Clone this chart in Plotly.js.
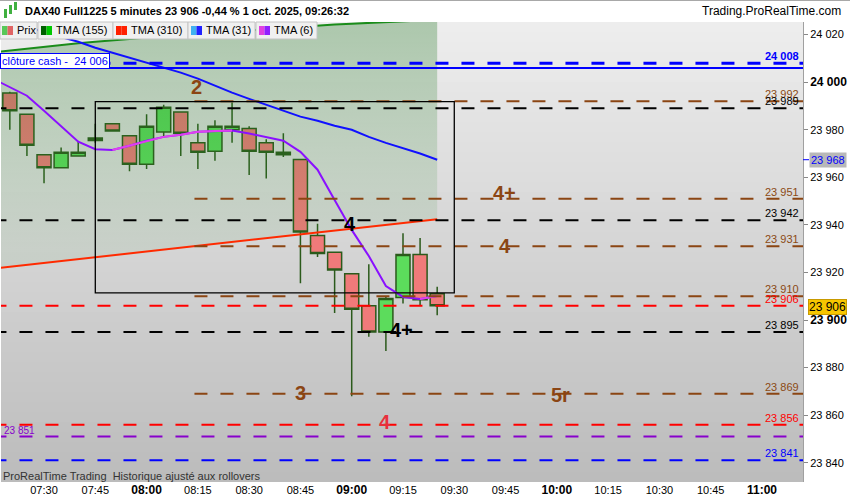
<!DOCTYPE html>
<html>
<head>
<meta charset="utf-8">
<script src="https://cdn.plot.ly/plotly-3.0.1.min.js"></script>
<style>html,body{margin:0;padding:0;background:#fff;}#chart{width:850px;height:500px;}</style>
</head>
<body>
<div id="chart"></div>
<script>
// ---- DATA ----
const times = ['07:20','07:25','07:30','07:35','07:40','07:45','07:50','07:55','08:00','08:05','08:10','08:15','08:20','08:25','08:30','08:35','08:40','08:45','08:50','08:55','09:00','09:05','09:10','09:15','09:20','09:25'];
const opens  = [23995.5,23986.5,23969.5,23964,23969,23975.5,23982.5,23977.5,23965.5,23979,23987.5,23974.5,23971,23980,23980.5,23974.5,23969.5,23967.5,23935.5,23928.5,23919.5,23906,23895,23909.5,23927.5,23911];
const highs  = [23996,23986.5,23969.5,23972.5,23975,23982.5,23982.5,23977.5,23986.5,23990.5,23987.5,23982.5,23984,23991.5,23981.5,23976,23978.5,23967.5,23940.5,23928.5,23919.5,23923.5,23910,23936.5,23934.5,23914];
const lows   = [23980,23969,23957.5,23964,23969,23974.5,23979.5,23962.5,23963.5,23977,23969,23963.5,23967,23974.5,23961,23959.5,23968.5,23915.5,23926.5,23903,23868,23893,23887,23907,23906,23902];
const closes = [23988,23973.5,23964,23970.5,23970.5,23976.5,23979.5,23965.5,23981.5,23989.5,23978.5,23970.5,23981.5,23981.5,23971,23970.5,23970.5,23937,23928,23921,23904.5,23895,23909,23927.5,23908.5,23906];

const maTimes = ['07:15','07:20','07:25','07:30','07:35','07:40','07:45','07:50','07:55','08:00','08:05','08:10','08:15','08:20','08:25','08:30','08:35','08:40','08:45','08:50','08:55','09:00','09:05','09:10','09:15','09:20','09:25'];
const tma155 = [24012.5,24013.3,24014.2,24015,24015.7,24016.4,24017,24017.5,24018.1,24018.7,24019.3,24019.9,24020.4,24021,24021.5,24022,24022.5,24023,24023.4,24023.8,24024.2,24024.6,24025,24025.3,24025.6,24025.9,24026.2];
const tma310 = [23921.6,23922.4,23923.2,23924,23924.8,23925.6,23926.4,23927.2,23928,23928.8,23929.6,23930.4,23931.2,23932,23932.8,23933.6,23934.4,23935.2,23936,23936.8,23937.6,23938.4,23939.2,23940,23940.8,23941.6,23942.4];
const tma31  = [24027,24025,24023.4,24021,24019,24017,24014.5,24012.4,24010.3,24008.2,24006.3,24004,24001.5,23998.5,23995.6,23993,23990.5,23988,23985.5,23983.8,23981.7,23980,23977,23974.5,23972.4,23970,23967.4];
const tma6   = [24001.5,23997.8,23994.3,23988,23981.7,23975,23971.8,23971.5,23973.3,23975.4,23977,23977.9,23979.2,23979.5,23979.7,23978.4,23977,23975.4,23970.7,23963.2,23950.5,23937.9,23926.9,23914.3,23909.7,23908.8,23910.1];

const levelValues = [24008, 23992, 23989, 23951, 23942, 23931, 23910, 23906, 23895, 23869, 23856, 23851, 23841];
const levelLabels = ['24 008','23 992','23 989','23 951','23 942','23 931','23 910','23 906','23 895','23 869','23 856','23 851','23 841'];
const levelKinds  = ['blue','brown','black','brown','black','brown','brown','red','black','brown','red','purple','blue'];
const cashClose = 24006;
const cashLabel = 'clôture cash -  24 006';

const waveTexts  = ['2','4+','4','4','4+','3','5r','4'];
const waveTimes  = ['08:14:40','09:44:50','08:59:30','09:44:50','09:14:40','08:45:00','10:01:00','09:09:40'];
const waveLevels = [23998, 23953.4, 23940.4, 23931.1, 23895.8, 23869.3, 23868.5, 23857];
const waveKinds  = ['brown','brown','black','brown','black','brown','brown','red4'];

const boxTimes  = ['07:45','09:30'];
const boxLevels = [23911.4, 23991.8];

const xTickTimes = ['07:30','07:45','08:00','08:15','08:30','08:45','09:00','09:15','09:30','09:45','10:00','10:15','10:30','10:45','11:00'];
const yTickVals = [23840,23860,23880,23900,23920,23940,23960,23980,24000,24020];
const yTickText = ['23 840','23 860','23 880','23 900','23 920','23 940','23 960','23 980','24 000','24 020'];

const lastMA31 = 23967.4, lastMA31Label = '23 968';
const lastPrice = 23905.6, lastPriceLabel = '23 906';

const titleText = 'DAX40 Full1225 5 minutes 23 906 -0,44 % 1 oct. 2025, 09:26:32';
const siteText = 'Trading.ProRealTime.com';
const footerText = 'ProRealTime Trading\u00a0 Historique ajusté aux rollovers';
const legendItems = ['Prix','TMA (155)','TMA (310)','TMA (31)','TMA (6)'];

// ---- STYLE ----
const FONT = 'Liberation Sans, Arial, sans-serif';
const COL = {blue:'#0000ff', brown:'#8b4513', black:'#000000', red:'#ff0000', purple:'#8800cc', red4:'#e8303c'};
const T = s => '2025-10-01 ' + (s.length === 5 ? s + ':00' : s);
const px = x => (x - 1) / 802;
const py = y => (482 - y) / 460;

const shapes = [];
// background vertical gradient
const bands = 46;
for (let i = 0; i < bands; i++) {
  const t = i / (bands - 1);
  const c = Math.round(237 - t * 49);
  shapes.push({type:'rect', xref:'paper', yref:'paper', x0:0, x1:1, y0:1 - (i + 1) / bands, y1:1 - i / bands,
    fillcolor:`rgb(${c},${c},${c})`, line:{width:0}, layer:'below'});
}
// levels
levelValues.forEach((v, i) => {
  const k = levelKinds[i];
  const startT = k === 'brown' ? T('08:14') : T('07:00');
  shapes.push({type:'line', xref:'x', yref:'y', x0:startT, x1:T('11:30'), y0:v, y1:v,
    line:{color:COL[k], width:k === 'blue' && i === 0 ? 3 : 2, dash:'13px,13px'}});
});
shapes.push({type:'line', xref:'x', yref:'y', x0:T('07:00'), x1:T('11:30'), y0:cashClose, y1:cashClose,
  line:{color:COL.blue, width:2}});
// wave box
shapes.push({type:'rect', xref:'x', yref:'y', x0:T(boxTimes[0]), x1:T(boxTimes[1]), y0:boxLevels[0], y1:boxLevels[1],
  line:{color:'#000', width:1.3}, fillcolor:'rgba(0,0,0,0)'});
// header top border
shapes.push({type:'line', xref:'paper', yref:'paper', x0:px(0), x1:px(850), y0:py(0.5), y1:py(0.5), line:{color:'#a8a8a8', width:1}});
// icon (small candles)
[[4,7,9,18,'#40b040'],[9,12,5,14,'#40b040'],[14,17,2,10,'#40b040']].forEach(c => {
  shapes.push({type:'rect', xref:'paper', yref:'paper', x0:px(c[0]), x1:px(c[1]), y0:py(c[3]), y1:py(c[2]), fillcolor:c[4], line:{width:0}});
});
// legend boxes
const legBoxes = [[0,37],[38,113],[113,188],[188,255],[256,317]];
const legSw = [['#58c858','#e06464'],['#006000','#00c800'],['#ff2000','#ff2000'],['#40b0f0','#2020ff'],['#e040e0','#9020ff']];
const legSwX = [2,41,116,191,259];
const legTextX = [15,54,129,204,272];
legBoxes.forEach((b, i) => {
  shapes.push({type:'rect', xref:'paper', yref:'paper', x0:px(b[0]), x1:px(b[1]), y0:py(39), y1:py(22),
    fillcolor:'#f0f0f0', line:{color:'#c4c4c4', width:1}});
  shapes.push({type:'rect', xref:'paper', yref:'paper', x0:px(legSwX[i]), x1:px(legSwX[i] + 5.5), y0:py(35), y1:py(26), fillcolor:legSw[i][0], line:{width:0}});
  shapes.push({type:'rect', xref:'paper', yref:'paper', x0:px(legSwX[i] + 5.5), x1:px(legSwX[i] + 11), y0:py(35), y1:py(26), fillcolor:legSw[i][1], line:{width:0}});
});
// right axis markers
shapes.push({type:'line', xref:'paper', yref:'y', x0:px(803), x1:px(809), y0:lastMA31, y1:lastMA31, line:{color:COL.blue, width:1}});

const annotations = [];
annotations.push({xref:'paper', yref:'paper', x:px(23), y:py(11), xanchor:'left', yanchor:'middle', showarrow:false,
  text:'<b>' + titleText + '</b>', font:{family:FONT, size:11, color:'#000'}});
annotations.push({xref:'paper', yref:'paper', x:px(843), y:py(11), xanchor:'right', yanchor:'middle', showarrow:false,
  text:siteText, font:{family:FONT, size:12, color:'#000'}});
legendItems.forEach((t, i) => {
  annotations.push({xref:'paper', yref:'paper', x:px(legTextX[i]), y:py(30.5), xanchor:'left', yanchor:'middle', showarrow:false,
    text:t, font:{family:FONT, size:11, color:'#000'}});
});
annotations.push({xref:'paper', yref:'paper', x:px(1), y:py(476), xanchor:'left', yanchor:'middle', showarrow:false,
  text:footerText, font:{family:FONT, size:11, color:'#333'}});
annotations.push({xref:'paper', yref:'paper', x:px(0), y:py(61), xanchor:'left', yanchor:'middle', showarrow:false,
  text:cashLabel, font:{family:FONT, size:11, color:COL.blue}, bgcolor:'#ffffff', bordercolor:COL.blue, borderwidth:1, borderpad:1});
levelValues.forEach((v, i) => {
  const k = levelKinds[i];
  if (k === 'purple') {
    annotations.push({xref:'paper', yref:'y', x:px(2), y:v, xanchor:'left', yanchor:'bottom', showarrow:false, yshift:-1,
      text:levelLabels[i], font:{family:FONT, size:10, color:COL.purple}});
  } else {
    annotations.push({xref:'paper', yref:'y', x:px(801), y:v, xanchor:'right', yanchor:'bottom', showarrow:false, yshift:-1,
      text:i === 0 ? '<b>' + levelLabels[i] + '</b>' : levelLabels[i],
      font:{family:FONT, size:11, color:k === 'brown' ? '#8b4a14' : COL[k]}});
  }
});
waveTexts.forEach((t, i) => {
  annotations.push({xref:'x', yref:'y', x:T(waveTimes[i]), y:waveLevels[i], xanchor:'center', yanchor:'middle', showarrow:false,
    text:'<b>' + t + '</b>', font:{family:FONT, size:20, color:COL[waveKinds[i]]}});
});
annotations.push({xref:'paper', yref:'y', x:px(809), y:lastMA31, xanchor:'left', yanchor:'middle', showarrow:false,
  text:lastMA31Label, font:{family:FONT, size:11, color:COL.blue}, bgcolor:'#b8b8b8', borderpad:1});
annotations.push({xref:'paper', yref:'y', x:px(808), y:lastPrice, xanchor:'left', yanchor:'middle', showarrow:false,
  text:lastPriceLabel, font:{family:FONT, size:12, color:'#000'}, bgcolor:'#f7c600', bordercolor:'#c89a00', borderwidth:1, borderpad:0});

// ---- TRACES ----
const maX = maTimes.map(T);
const traces = [];
traces.push({type:'scatter', mode:'lines', x:maX, y:tma155, line:{color:'#1a8c1a', width:2}, hoverinfo:'skip'});
traces.push({type:'scatter', mode:'lines', x:maX, y:tma310, line:{color:'#ff2a00', width:2}, fill:'tonexty',
  fillgradient:{type:'vertical', start:23930, stop:24025,
    colorscale:[[0,'rgba(60,150,60,0.08)'],[1,'rgba(20,110,20,0.30)']]}, hoverinfo:'skip'});
traces.push({type:'candlestick', x:times.map(T), open:opens, high:highs, low:lows, close:closes,
  increasing:{line:{color:'#2b5a1b', width:1.5}, fillcolor:'#5cdc5c'},
  decreasing:{line:{color:'#2b5a1b', width:1.5}, fillcolor:'#f07a7a'},
  whiskerwidth:0, hoverinfo:'skip'});
traces.push({type:'scatter', mode:'lines', x:maX, y:tma31, line:{color:'#1010ff', width:2}, hoverinfo:'skip'});
traces.push({type:'scatter', mode:'lines', x:maX, y:tma6, line:{color:'#8a10ff', width:2}, hoverinfo:'skip'});
// rising segments of TMA(6) in magenta
const mx = [], my = [];
for (let i = 0; i < tma6.length - 1; i++) {
  if (tma6[i + 1] > tma6[i]) {
    if (mx.length && mx[mx.length - 1] !== maX[i]) { mx.push(null); my.push(null); }
    if (!mx.length || mx[mx.length - 1] !== maX[i]) { mx.push(maX[i]); my.push(tma6[i]); }
    mx.push(maX[i + 1]); my.push(tma6[i + 1]);
  }
}
traces.push({type:'scatter', mode:'lines', x:mx, y:my, line:{color:'#e040f0', width:2}, connectgaps:false, hoverinfo:'skip'});

const xTickText = xTickTimes.map(t => t.endsWith(':00') ? '<span style="font-size:12px"><b>' + t + '</b></span>' : t);
const yText = yTickVals.map((v, i) => (v === 24000 || v === 23900) ? '<span style="font-size:12px"><b>' + yTickText[i] + '</b></span>' : yTickText[i]);

const layout = {
  width:850, height:500,
  margin:{l:1, r:47, t:22, b:18, pad:0},
  paper_bgcolor:'#ffffff', plot_bgcolor:'#dedede',
  showlegend:false,
  boxgap:0.18, boxgroupgap:0,
  font:{family:FONT, size:11, color:'#000'},
  xaxis:{type:'date', range:[T('07:17:25'), T('11:12:00')], tickvals:xTickTimes.map(T), ticktext:xTickText,
    showgrid:false, zeroline:false, showline:false, ticks:'', ticklen:0,
    tickfont:{family:FONT, size:11, color:'#000'}, rangeslider:{visible:false}, fixedrange:true},
  yaxis:{side:'right', range:[23831.9, 24025.3], tickvals:yTickVals, ticktext:yText, showgrid:false, zeroline:false,
    showline:true, linecolor:'#a0a0a0', linewidth:1, ticks:'outside', ticklen:4, tickcolor:'#888',
    tickfont:{family:FONT, size:11, color:'#000'}, fixedrange:true},
  shapes:shapes, annotations:annotations
};
Plotly.newPlot('chart', traces, layout, {displayModeBar:false, staticPlot:true});
</script>
</body>
</html>
